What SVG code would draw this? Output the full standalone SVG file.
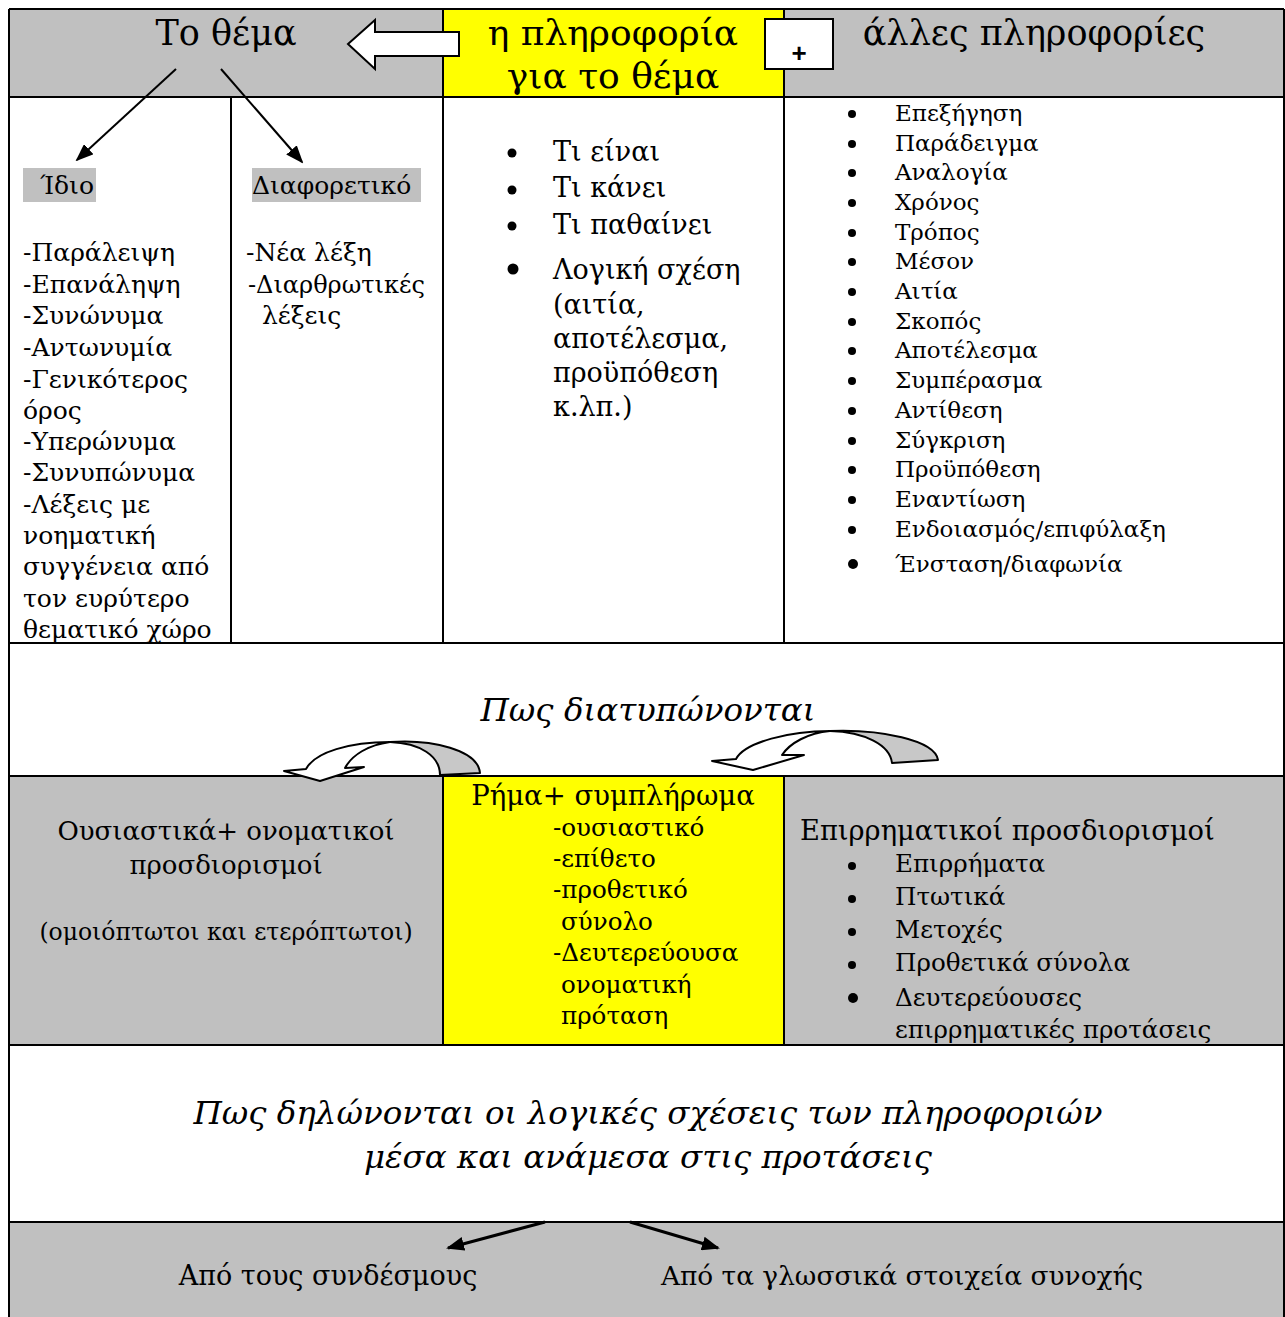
<svg xmlns="http://www.w3.org/2000/svg" width="1285" height="1317" viewBox="0 0 1285 1317">
<defs>
<style>
text{font-family:"DejaVu Serif","Liberation Serif",serif;fill:#000}
.gray{fill:#c0c0c0}
.yel{fill:#ffff00}
.ln{stroke:#000;stroke-width:2;fill:none}
.h{font-size:35px}
.b{font-size:23px}
.m{font-size:25px}
.l{font-size:24.6px}
.it{font-size:32.5px;font-style:italic}
</style>
<marker id="ah2" markerWidth="18" markerHeight="14" refX="16" refY="7" orient="auto" markerUnits="userSpaceOnUse" viewBox="0 0 18 14"><path d="M0,0 L18,7 L0,14 z" fill="#000"/></marker>
</defs>
<rect width="1285" height="1317" fill="#fff"/>
<!-- backgrounds -->
<rect class="gray" x="9" y="9" width="434" height="88"/>
<rect class="yel" x="443" y="9" width="341" height="88"/>
<rect class="gray" x="784" y="9" width="500" height="88"/>
<rect class="gray" x="9" y="776" width="434" height="269"/>
<rect class="yel" x="443" y="776" width="341" height="269"/>
<rect class="gray" x="784" y="776" width="500" height="269"/>
<rect class="gray" x="9" y="1222" width="1275" height="95"/>
<!-- grid -->
<g id="grid" class="ln">
<path d="M9,9 H1284 M9,97 H1284 M9,643 H1284 M9,776 H1284 M9,1045 H1284 M9,1222 H1284"/>
<path d="M9,9 V1317 M1284,9 V1317 M443,9 V643 M784,9 V643 M231,97 V643 M443,776 V1045 M784,776 V1045"/>
</g>
<!-- row 1 -->
<g id="topic"><text class="h" x="226" y="45" text-anchor="middle">Το θέμα</text></g>
<g id="info"><text class="h" x="613" y="45" text-anchor="middle" style="font-size:36px">η πληροφορία</text><text class="h" x="613" y="88" text-anchor="middle" style="font-size:36px">για το θέμα</text></g>
<g id="other"><text class="h" x="1034" y="45" text-anchor="middle">άλλες πληροφορίες</text></g>
<g id="plus"><rect x="765" y="19" width="68" height="50" fill="#fff" stroke="#000" stroke-width="2"/><text x="799" y="62" text-anchor="middle" style="font-family:'Liberation Sans',sans-serif;font-weight:bold;font-size:26px">+</text></g>
<g id="bigarrow"><path d="M348,44 L375,20 L375,32 L459,32 L459,56 L375,56 L375,69 Z" fill="#fff" stroke="#000" stroke-width="2"/></g>
<!-- row 2 col 1 -->
<g id="same">
<rect class="gray" x="23" y="168" width="73" height="34"/>
<text class="m" x="40" y="194">Ίδιο</text>
<text class="m"><tspan x="23" y="261">-Παράλειψη</tspan><tspan x="23" y="293">-Επανάληψη</tspan><tspan x="23" y="324">-Συνώνυμα</tspan><tspan x="23" y="356">-Αντωνυμία</tspan><tspan x="23" y="388">-Γενικότερος</tspan><tspan x="23" y="419">όρος</tspan><tspan x="23" y="450">-Υπερώνυμα</tspan><tspan x="23" y="481">-Συνυπώνυμα</tspan><tspan x="23" y="513">-Λέξεις με</tspan><tspan x="23" y="544">νοηματική</tspan><tspan x="23" y="575">συγγένεια από</tspan><tspan x="23" y="607">τον ευρύτερο</tspan><tspan x="23" y="638">θεματικό χώρο</tspan></text>
</g>
<g id="different">
<rect class="gray" x="252" y="168" width="169" height="34"/>
<text class="m" x="252" y="194">Διαφορετικό</text>
<text class="m"><tspan x="246" y="261">-Νέα λέξη</tspan><tspan x="248" y="293" style="font-size:24px">-Διαρθρωτικές</tspan><tspan x="262" y="324">λέξεις</tspan></text>
</g>
<!-- row 2 col 2 -->
<g id="whatis">
<g><circle cx="512" cy="153" r="4.5"/><circle cx="512" cy="190" r="4.5"/><circle cx="512" cy="226" r="4.5"/><circle cx="513" cy="269" r="5.5"/></g>
<text style="font-size:27px"><tspan x="553" y="161">Τι είναι</tspan><tspan x="553" y="197">Τι κάνει</tspan><tspan x="553" y="234">Τι παθαίνει</tspan><tspan x="553" y="279">Λογική σχέση</tspan><tspan x="553" y="314">(αιτία,</tspan><tspan x="553" y="348">αποτέλεσμα,</tspan><tspan x="553" y="382">προϋπόθεση</tspan><tspan x="553" y="416">κ.λπ.)</tspan></text>
</g>
<!-- row 2 col 3 -->
<g id="otherlist">
<g><circle cx="852" cy="114" r="4"/><circle cx="852" cy="144" r="4"/><circle cx="852" cy="173" r="4"/><circle cx="852" cy="203" r="4"/><circle cx="852" cy="233" r="4"/><circle cx="852" cy="262" r="4"/><circle cx="852" cy="292" r="4"/><circle cx="852" cy="322" r="4"/><circle cx="852" cy="351" r="4"/><circle cx="852" cy="381" r="4"/><circle cx="852" cy="411" r="4"/><circle cx="852" cy="441" r="4"/><circle cx="852" cy="470" r="4"/><circle cx="852" cy="500" r="4"/><circle cx="852" cy="530" r="4"/><circle cx="853" cy="564" r="5"/></g>
<text class="b"><tspan x="895" y="121">Επεξήγηση</tspan><tspan x="895" y="151">Παράδειγμα</tspan><tspan x="895" y="180">Αναλογία</tspan><tspan x="895" y="210">Χρόνος</tspan><tspan x="895" y="240">Τρόπος</tspan><tspan x="895" y="269">Μέσον</tspan><tspan x="895" y="299">Αιτία</tspan><tspan x="895" y="329">Σκοπός</tspan><tspan x="895" y="358">Αποτέλεσμα</tspan><tspan x="895" y="388">Συμπέρασμα</tspan><tspan x="895" y="418">Αντίθεση</tspan><tspan x="895" y="448">Σύγκριση</tspan><tspan x="895" y="477">Προϋπόθεση</tspan><tspan x="895" y="507">Εναντίωση</tspan><tspan x="895" y="537">Ενδοιασμός/επιφύλαξη</tspan><tspan x="895" y="572">Ένσταση/διαφωνία</tspan></text>
</g>
<!-- row 3 -->
<g id="how"><text class="it" x="648" y="721" text-anchor="middle">Πως διατυπώνονται</text></g>
<!-- curved arrows -->
<g id="curve-left" stroke="#000" stroke-width="2" stroke-linejoin="round">
<path d="M440,775 C440,756 420,743 390,742 C432,739 478,750 480,773 Z" fill="#c8c8c8"/>
<path d="M390,742 C350,742 315,752 306,769 L284,771 L320,781 L364,767 L345,768 C352,755 368,745 390,742 Z" fill="#fff"/>
</g>
<g id="curve-right" stroke="#000" stroke-width="2" stroke-linejoin="round">
<path d="M892,763 C890,745 865,732 830,731 C880,729 935,740 938,760 Z" fill="#c8c8c8"/>
<path d="M830,731 C790,731 745,742 736,759 L712,761 L753,770 L804,755 L782,755 C790,743 808,733 830,731 Z" fill="#fff"/>
</g>
<!-- row 4 -->
<g id="nouns">
<text text-anchor="middle" style="font-size:26px"><tspan x="226" y="840">Ουσιαστικά+ ονοματικοί</tspan><tspan x="226" y="874">προσδιορισμοί</tspan></text>
<text x="226" y="940" text-anchor="middle" style="font-size:23.5px">(ομοιόπτωτοι και ετερόπτωτοι)</text>
</g>
<g id="verb">
<text x="613" y="805" text-anchor="middle" style="font-size:27.5px">Ρήμα+ συμπλήρωμα</text>
<text class="l"><tspan x="553" y="836">-ουσιαστικό</tspan><tspan x="553" y="867">-επίθετο</tspan><tspan x="553" y="898">-προθετικό</tspan><tspan x="561" y="930">σύνολο</tspan><tspan x="553" y="961">-Δευτερεύουσα</tspan><tspan x="561" y="993">ονοματική</tspan><tspan x="561" y="1024">πρόταση</tspan></text>
</g>
<g id="adverbial">
<text x="800" y="840" style="font-size:27.3px">Επιρρηματικοί προσδιορισμοί</text>
<g><circle cx="852" cy="866" r="4"/><circle cx="852" cy="899" r="4"/><circle cx="852" cy="932" r="4"/><circle cx="852" cy="965" r="4"/><circle cx="853" cy="998" r="5"/></g>
<text style="font-size:24.6px"><tspan x="895" y="872">Επιρρήματα</tspan><tspan x="895" y="905">Πτωτικά</tspan><tspan x="895" y="938">Μετοχές</tspan><tspan x="895" y="971">Προθετικά σύνολα</tspan><tspan x="895" y="1006">Δευτερεύουσες</tspan><tspan x="895" y="1038">επιρρηματικές προτάσεις</tspan></text>
</g>
<!-- row 5 -->
<g id="logic"><text class="it" text-anchor="middle"><tspan x="648" y="1124">Πως δηλώνονται οι λογικές σχέσεις των πληροφοριών</tspan><tspan x="648" y="1168">μέσα και ανάμεσα στις προτάσεις</tspan></text></g>
<!-- row 6 -->
<g id="conj"><text style="font-size:27px" x="328" y="1285" text-anchor="middle">Από τους συνδέσμους</text></g>
<g id="cohesion"><text style="font-size:26.4px" x="902" y="1285" text-anchor="middle">Από τα γλωσσικά στοιχεία συνοχής</text></g>
<!-- connectors -->
<g id="connectors" stroke="#000" stroke-width="2" fill="none">
<line x1="176" y1="69" x2="77" y2="160" marker-end="url(#ah2)"/>
<line x1="221" y1="69" x2="302" y2="162" marker-end="url(#ah2)"/>
<line x1="545" y1="1222" x2="448" y2="1248" stroke-width="3" marker-end="url(#ah2)"/>
<line x1="630" y1="1222" x2="718" y2="1248" stroke-width="3" marker-end="url(#ah2)"/>
</g>
</svg>
